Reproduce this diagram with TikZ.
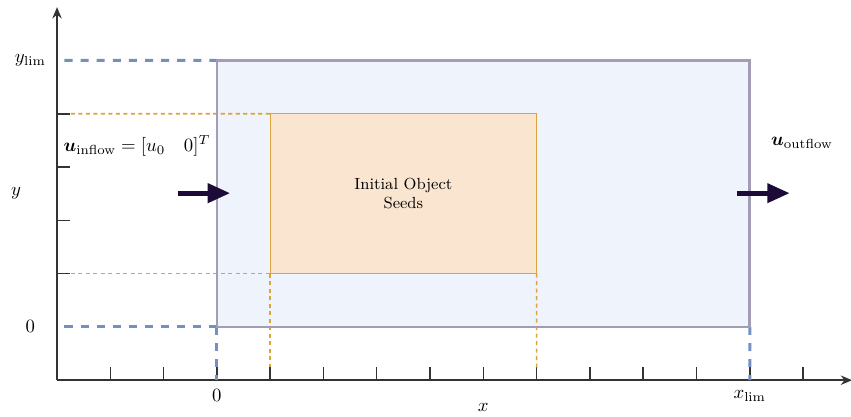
\documentclass[tikz,border=0pt]{standalone}
\usepackage{amsmath,bm}
\usetikzlibrary{arrows.meta}
\definecolor{domfill}{HTML}{EFF4FC}
\definecolor{domdraw}{HTML}{A29CB4}
\definecolor{seedfill}{HTML}{FAE6D0}
\definecolor{seeddraw}{HTML}{DBA43C}
\definecolor{limblue}{HTML}{7190C4}
\definecolor{flowcol}{HTML}{1B0B36}
\begin{document}
\begin{tikzpicture}[x=1cm,y=1cm,
  axis/.style={line width=0.9pt,black!80,-{Stealth[length=6pt,width=5pt]}},
  tick/.style={line width=0.8pt,black!80},
  limline/.style={limblue,line width=1.6pt,dash pattern=on 4.3pt off 4.3pt},
  seedline/.style={seeddraw,line width=0.9pt,dash pattern=on 2.2pt off 1.8pt},
  flow/.style={flowcol,line width=2.6pt,-{Triangle[length=12pt,width=10pt]}},
  lab/.style={inner sep=1pt,font=\normalsize}]
\useasboundingbox (-4.07,-1.69) rectangle (11.90,6.135);
% domain and seed region
\node[draw=domdraw,fill=domfill,line width=1.4pt,outer sep=0pt,minimum width=10cm,minimum height=5cm,inner sep=0pt,anchor=south west] (dom) at (0,0) {};
\node[draw=seeddraw,fill=seedfill,line width=0.7pt,outer sep=0pt,minimum width=5cm,minimum height=3cm,inner sep=0pt,anchor=south west,align=center,font=\fontsize{8.6}{10}\selectfont] (seed) at (1,1) {Initial Object\\Seeds};
% axes
\coordinate (O) at (-3,-1);
\coordinate (xend) at (11.92,-1);
\coordinate (yend) at (-3,6.0);
\draw[axis] (O) -- (xend);
\draw[axis] (O) -- (yend);
\foreach \i in {-2,...,11} \draw[tick] (\i,-1) -- (\i,-0.76);
\foreach \j in {1,...,4} \draw[tick] (-3,\j) -- (-2.76,\j);
% limit lines
\coordinate (yl) at (-2.86,5);
\coordinate (y0) at (-2.86,0);
\coordinate (x0) at (0,-1);
\coordinate (xl) at (10,-1);
\draw[limline] (yl) -- (dom.north west);
\draw[limline] (y0) -- (dom.south west);
\draw[limline] (dom.south west) -- (x0);
\draw[limline] (dom.south east) -- (xl);
\coordinate (s4) at (-2.74,4);
\coordinate (s1) at (-2.74,1);
\coordinate (sx1) at (1,-0.76);
\coordinate (sx6) at (6,-0.76);
\draw[seedline] (s4) -- (seed.north west);
\draw[seedline] (s1) -- (seed.south west);
\draw[seedline] (seed.south west) -- (sx1);
\draw[seedline] (seed.south east) -- (sx6);
% redraw borders on top of dashed ends
\draw[domdraw,line width=1.4pt] (dom.south west) rectangle (dom.north east);
\draw[seeddraw,line width=0.7pt] (seed.south west) rectangle (seed.north east);
% labels
\node[lab] (ylim) at (-3.5,5) {$y_{\lim}$};
\node[lab] (yzero) at (-3.5,0) {$0$};
\node[lab] (ylab) at (-3.77,2.5) {$y$};
\node[lab] (xzero) at (0,-1.28) {$0$};
\node[lab] (xlim) at (10,-1.3) {$x_{\lim}$};
\node[lab] (xlab) at (5,-1.52) {$x$};
\node[lab] (uin) at (-1.5,3.4) {$\bm{u}_{\text{inflow}} = [u_0 \quad 0]^T$};
\node[lab] (uout) at (10.98,3.45) {$\bm{u}_{\text{outflow}}$};
% flow arrows
\coordinate (in1) at (-0.73,2.51);
\coordinate (in2) at (0.25,2.51);
\coordinate (out1) at (9.76,2.51);
\coordinate (out2) at (10.75,2.51);
\draw[flow] (in1) -- (in2);
\draw[flow] (out1) -- (out2);
\end{tikzpicture}
\end{document}
